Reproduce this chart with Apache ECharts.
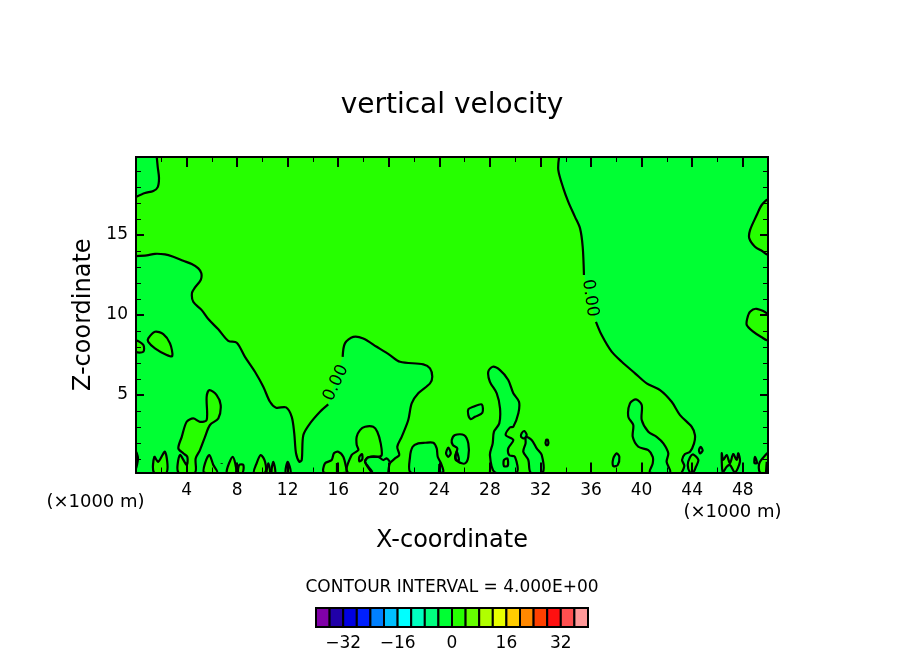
<!DOCTYPE html>
<html>
<head>
<meta charset="utf-8">
<script src="https://cdn.jsdelivr.net/npm/echarts@6/dist/echarts.min.js"></script>
<style>
	html, body { margin: 0; padding: 0; background: #fff; }
	#main { width: 904px; height: 654px; }
</style>
</head>
<body>
<div id="main"></div>
<script>
// axis extents and ticks, km
var xMin = 0, xMax = 50, zMin = 0.16, zMax = 19.88;
var xMajor = [4, 8, 12, 16, 20, 24, 28, 32, 36, 40, 44, 48];
var xMinor = [2, 6, 10, 14, 18, 22, 26, 30, 34, 38, 42, 46];
var zMajor = [5, 10, 15];
var zMinor = [1, 2, 3, 4, 6, 7, 8, 9, 11, 12, 13, 14, 16, 17, 18, 19];

// colour bar
var barLevels = [-40, -36, -32, -28, -24, -20, -16, -12, -8, -4, 0, 4, 8, 12, 16, 20, 24, 28, 32, 36];
var barColors = ['#8000a8', '#2000a8', '#0000e0', '#0020ff', '#0080ff', '#00c0ff', '#00ffff', '#00ffc0', '#00ff80', '#00ff33',
	'#26ff00', '#66ff00', '#b0ff00', '#e8ff00', '#ffcc00', '#ff8800', '#ff4000', '#ff1010', '#ff5050', '#ff9999'];
var barTicks = [-32, -16, 0, 16, 32];

// zero contour, main boundaries
var topLeftLine = [[1.64, 19.88], [1.72, 19.25], [1.82, 18.56], [1.72, 18.0], [1.37, 17.75], [0.71, 17.63], [0, 17.38]];
var mainLeftA = [[0, 13.69], [0.85, 13.73], [1.5, 13.83], [2.29, 13.79], [2.95, 13.64], [3.74, 13.39], [4.41, 13.19], [4.93, 12.92],
	[5.17, 12.61], [5.12, 12.19], [4.67, 11.73], [4.43, 11.39], [4.53, 10.83], [5.2, 10.31], [5.72, 9.75], [6.51, 9.11], [7.3, 8.39],
	[7.97, 8.27], [8.62, 7.39], [9.41, 6.46], [10.07, 5.52], [10.6, 4.58], [11.08, 4.21], [11.87, 4.23], [12.32, 3.64], [12.52, 2.61],
	[12.66, 1.36], [12.92, 0.83], [13.11, 0.94], [13.24, 2.5], [13.77, 3.23], [14.56, 3.96], [15.21, 4.42]];
var mainLeftB = [[16.35, 7.39], [16.53, 8.23], [17.19, 8.64], [17.98, 8.54], [19.04, 8.02], [20.09, 7.5], [20.89, 7.08], [22.73, 6.92],
	[23.26, 6.67], [23.44, 6.14], [23.26, 5.73], [22.33, 5.11], [21.81, 4.48], [21.54, 3.44], [21.02, 2.39], [20.67, 1.77], [20.83, 1.25],
	[20.49, 1.04], [20.09, 0.73], [19.96, 0.16]];
var mainRightA = [[33.47, 19.88], [33.41, 19.06], [33.81, 17.92], [34.2, 17.08], [34.73, 16.14], [35.13, 15.42], [35.34, 14.27], [35.44, 12.5]];
var mainRightB = [[36.39, 9.58], [36.84, 8.75], [37.63, 7.71], [38.43, 7.08], [39.48, 6.36], [40.4, 5.73], [41.46, 5.31], [42.38, 4.58],
	[43.04, 3.75], [43.96, 3.02], [44.22, 2.5], [44.15, 1.98], [43.83, 1.46], [43.43, 1.31], [43.2, 0.94], [43.38, 0.58], [43.17, 0.16]];
var bumpLine = [[18.65, 0.16], [18.12, 0.83], [18.38, 1.11], [19.17, 1.14], [19.56, 0.94], [19.83, 1.04], [20.09, 0.83]];

// islands of the positive side inside the negative regions
var lightTall = [[4.67, 0.16], [4.72, 1.04], [5.06, 1.56], [5.46, 2.39], [5.85, 3.13], [6.51, 3.54], [6.7, 4.38], [6.38, 5.0], [5.8, 5.31],
	[5.59, 4.89], [5.59, 3.44], [5.06, 3.33], [4.53, 3.54], [4.01, 3.33], [3.62, 2.39], [3.35, 1.67], [3.74, 1.36], [4.06, 1.14], [4.01, 0.63],
	[3.48, 1.25], [3.35, 0.16]];
var lightBlob = [[0.97, 8.54], [1.5, 8.96], [2.16, 8.81], [2.69, 8.23], [2.87, 7.44], [2.43, 7.5], [1.5, 7.92], [0.97, 8.33]];
var lightEdge = [[0, 8.39], [0.58, 8.13], [0.58, 7.71], [0, 7.71]];
var lightArch = [[16.72, 0.16], [17.06, 1.25], [17.59, 1.56], [17.46, 1.88], [17.46, 2.39], [17.72, 2.81], [18.12, 3.02], [18.77, 3.02],
	[19.09, 2.71], [19.36, 1.98], [19.44, 1.25], [19.17, 1.14], [18.38, 1.11], [18.12, 0.83], [18.65, 0.16]];
var spikeA = [[1.42, 0.16], [1.45, 1.14], [1.76, 0.83], [2.29, 1.46], [2.43, 0.16]];
var spikeB = [[5.38, 0.16], [5.46, 0.73], [5.8, 1.25], [6.12, 0.63], [6.43, 0.16]];
var spikeC = [[7.18, 0.16], [7.65, 1.14], [7.91, 0.16]];
var spikeD = [[8.09, 0.16], [8.17, 0.63], [8.49, 0.63], [8.44, 0.16]];
var spikeE = [[9.34, 0.16], [9.49, 0.63], [9.87, 1.25], [10.21, 0.83], [10.21, 0.16]];
var spikeF = [[10.34, 0.16], [10.47, 0.73], [10.6, 0.16]];
var spikeG = [[10.73, 0.16], [10.86, 0.83], [11.02, 0.16]];
var spikeH = [[11.84, 0.16], [12.0, 0.83], [12.24, 0.16]];
var spikeI = [[14.87, 0.16], [14.95, 0.73], [15.48, 0.94], [15.66, 1.36], [16.0, 1.46], [16.4, 1.14], [16.67, 0.31], [16.72, 0.16]];
var spikeLeft = [[0, 1.44], [0.16, 1.06], [0, 0.44]];
var lightTopRight = [[50, 17.19], [49.5, 16.88], [49.11, 16.25], [48.58, 15.31], [48.52, 14.79], [48.97, 14.27], [49.5, 14.02], [50, 13.81]];
var lightMidRight = [[50, 10.0], [49.11, 10.39], [48.58, 10.21], [48.36, 9.79], [48.32, 9.38], [48.83, 8.96], [49.5, 8.61], [50, 8.44]];
var lightLoop = [[44.09, 1.29], [44.49, 0.94], [44.3, 0.52], [44.09, 0.16], [43.83, 0.16], [43.65, 0.63], [43.83, 1.11]];
var lightTeeth = [[46.34, 1.36], [46.46, 0.94], [46.73, 1.25], [46.99, 0.73], [47.25, 1.31], [47.52, 0.94], [47.65, 1.36], [47.78, 0.83],
	[47.39, 0.16], [46.99, 0.63], [46.73, 0.52], [46.42, 0.16]];
var lightTooth = [[48.97, 1.14], [49.13, 0.75], [48.93, 0.75]];
var lightCorner = [[49.37, 0.16], [49.31, 0.73], [49.84, 1.28], [50, 1.38], [50, 0.16]];
var lightOval = [[29.11, 0.94], [29.38, 1.04], [29.41, 0.58], [29.11, 0.56]];

// islands of the negative side inside the positive region
var darkArchB = [[21.73, 0.16], [21.68, 1.14], [21.89, 1.77], [22.33, 1.98], [22.86, 2.02], [23.52, 2.02], [23.79, 1.67], [23.87, 1.14], [24.13, 0.73], [24.26, 0.16]];
var darkSmallA = [[26.29, 4.11], [26.68, 4.27], [27.35, 4.42], [27.4, 3.89], [26.82, 3.64], [26.48, 3.5], [26.29, 3.75]];
var darkSmallB = [[24.98, 2.19], [25.24, 2.5], [25.95, 2.5], [26.29, 1.98], [26.29, 1.14], [26.03, 0.73], [25.5, 0.83], [25.24, 1.14], [25.42, 1.67], [25.06, 1.88]];
var darkSmallC = [[24.71, 1.71], [24.9, 1.36], [24.71, 1.14], [24.53, 1.36]];
var darkSmallD = [[25.37, 1.46], [25.55, 0.94], [25.29, 0.94]];
var darkTall = [[28.4, 0.16], [28.0, 1.25], [28.22, 1.98], [28.32, 2.71], [28.74, 3.23], [28.8, 4.17], [28.54, 5.11], [28.0, 5.83], [27.87, 6.46],
	[28.22, 6.77], [28.8, 6.56], [29.45, 5.94], [29.85, 5.11], [30.3, 4.58], [30.25, 3.86], [29.85, 3.02], [29.59, 2.98], [29.25, 2.5], [29.85, 2.19],
	[29.45, 1.67], [29.53, 1.25], [29.98, 1.14], [30.12, 0.16]];
var darkNarrow = [[31.22, 0.16], [31.04, 0.94], [30.64, 1.46], [30.82, 1.98], [30.85, 2.39], [31.3, 2.19], [31.7, 1.67], [32.1, 1.25], [32.18, 0.16]];
var darkKnot = [[30.51, 2.61], [30.72, 2.75], [30.91, 2.5], [30.72, 2.29], [30.46, 2.39]];
var darkDot = [[32.44, 2.19], [32.59, 2.19], [32.59, 1.88], [32.44, 1.88]];
var darkOval = [[37.76, 1.04], [38.03, 1.36], [38.24, 1.14], [38.11, 0.63], [37.76, 0.56]];
var darkRidge = [[40.66, 0.16], [40.88, 0.73], [40.88, 1.14], [40.53, 1.56], [39.74, 1.77], [39.3, 2.39], [39.34, 3.13], [38.95, 3.64], [39.08, 4.48],
	[39.56, 4.73], [40.01, 4.38], [40.01, 3.44], [40.53, 2.71], [41.19, 2.39], [41.72, 1.98], [42.11, 1.36], [41.98, 0.83], [42.25, 0.16]];
var darkDrop = [[44.54, 1.56], [44.68, 1.77], [44.83, 1.52], [44.62, 1.36]];
var darkArchDot = [[17.67, 1.14], [17.88, 1.31], [17.9, 0.98], [17.67, 0.86]];

// short marks left by the contouring along the ground
var marks = [
	[[15.9, 0.75], [15.9, 0.16]], [[24.0, 0.69], [23.97, 0.16]], [[28.03, 0.69], [28.0, 0.16]],
	[[49.9, 0.83], [49.84, 0.16]], [[6.78, 0.76], [6.78, 0.7]]
];

// contour labels: x, z, angle in degrees
var contourLabels = [[15.82, 5.75, 65], [35.92, 11.06, -82]];

var darkFill = '#00ff33';
var lightFill = '#26ff00';
var curve = 0.3;

// the big regions are closed along the frame, so they stay unsmoothed
var bigRegions = [
	topLeftLine.concat([[0, zMax]]),
	mainLeftA.concat(mainLeftB, [[0, zMin]]),
	mainRightA.concat(mainRightB, [[xMax, zMin], [xMax, zMax]])
];
var darkRegions = [darkArchB, darkSmallA, darkSmallB, darkSmallC, darkSmallD, darkTall, darkNarrow, darkKnot, darkDot, darkOval, darkRidge, darkDrop];
var lightRegions = [lightTall, lightBlob, lightEdge, lightArch, spikeA, spikeB, spikeC, spikeD, spikeE, spikeF, spikeG, spikeH, spikeI,
	spikeLeft, lightTopRight, lightMidRight, lightLoop, lightTeeth, lightTooth, lightCorner, lightOval];
var openLines = [topLeftLine, mainLeftA, mainLeftB, mainRightA, mainRightB, bumpLine].concat(marks);
var closedLines = darkRegions.concat(lightRegions, [darkArchDot]);

/**
 * custom series that fills or strokes a list of contours in the plot grid
 */
function contourSeries(list, fill, closed, smooth) {
	return {
		type : 'custom',
		xAxisIndex : 0,
		yAxisIndex : 0,
		silent : true,
		animation : false,
		clip : true,
		z : 2,
		data : list.map(function(c, i) { return [i]; }),
		encode : { x : 0 },
		renderItem : function(params, api) {
			var points = list[params.dataIndex].map(function(p) { return api.coord(p); });
			var style = fill ? { fill : fill } : { fill : 'none', stroke : '#000', lineWidth : 2.2, lineJoin : 'round' };
			return { type : closed ? 'polygon' : 'polyline', shape : { points : points, smooth : smooth }, style : style };
		}
	};
}

/**
 * one axis of the plot grid, used several times for major and minor ticks on each side
 */
function plotAxis(position, min, max, ticks, length, labels, name, nameGap, labelMargin, labelPad) {
	var axis = {
		type : 'value',
		gridIndex : 0,
		position : position,
		min : min,
		max : max,
		z : 5,
		splitLine : { show : false },
		axisLine : { show : true, onZero : false, lineStyle : { color : '#000', width : 2 } },
		axisTick : { show : true, inside : true, customValues : ticks, length : length, lineStyle : { color : '#000', width : length > 6 ? 2 : 1 } },
		axisLabel : { show : false }
	};
	if (labels) {
		axis.axisLabel = { show : true, customValues : labels, color : '#000', fontFamily : 'DejaVu Sans', fontSize : 17, margin : labelMargin, padding : labelPad };
		axis.name = name;
		axis.nameLocation = 'middle';
		axis.nameGap = nameGap;
		axis.nameTextStyle = { color : '#000', fontFamily : 'DejaVu Sans', fontSize : 24 };
	}
	return axis;
}

function plainTitle(text, left, top, size) {
	return { text : text, left : left, top : top, padding : 0, textAlign : 'center',
		textStyle : { color : '#000', fontFamily : 'DejaVu Sans', fontWeight : 'normal', fontSize : size } };
}

var myChart = echarts.init(document.getElementById('main'), null, { renderer : 'canvas' });

var option = {
	backgroundColor : '#fff',
	animation : false,
	title : [
		plainTitle('vertical velocity', 452, 92, 28),
		plainTitle('CONTOUR INTERVAL = 4.000E+00', 452, 579, 17),
		plainTitle('(×1000 m)', 95.5, 493, 18),
		plainTitle('(×1000 m)', 732.5, 503, 18)
	],
	grid : [
		{ left : 136, top : 157, width : 632, height : 315.5, show : true, backgroundColor : lightFill, borderWidth : 0 },
		{ left : 316, top : 608, width : 272, height : 19, show : false }
	],
	xAxis : [
		plotAxis('bottom', xMin, xMax, xMajor, 10, xMajor, 'X-coordinate', 56, 10, 0),
		plotAxis('bottom', xMin, xMax, xMinor, 5),
		plotAxis('top', xMin, xMax, xMajor, 10),
		plotAxis('top', xMin, xMax, xMinor, 5),
		{
			type : 'value', gridIndex : 1, min : -40, max : 40,
			splitLine : { show : false },
			axisLine : { show : false },
			axisTick : { show : false },
			axisLabel : { customValues : barTicks, color : '#000', fontFamily : 'DejaVu Sans', fontSize : 17, margin : 8,
				formatter : function(v) { return String(v).replace('-', '\u2212'); } }
		}
	],
	yAxis : [
		plotAxis('left', zMin, zMax, zMajor, 8, zMajor, 'Z-coordinate', 39, 8, [4, 0, 0, 0]),
		plotAxis('left', zMin, zMax, zMinor, 5),
		plotAxis('right', zMin, zMax, zMajor, 8),
		plotAxis('right', zMin, zMax, zMinor, 5),
		{ type : 'value', gridIndex : 1, min : 0, max : 1, show : false }
	],
	series : [
		contourSeries(bigRegions, darkFill, true, 0),
		contourSeries(darkRegions, darkFill, true, curve),
		contourSeries(lightRegions, lightFill, true, curve),
		contourSeries([darkArchDot], darkFill, true, curve),
		contourSeries(openLines, null, false, curve),
		contourSeries(closedLines, null, true, curve),
		{
			type : 'custom',
			xAxisIndex : 0,
			yAxisIndex : 0,
			silent : true,
			z : 3,
			data : contourLabels,
			encode : { x : 0, y : 1 },
			renderItem : function(params, api) {
				var p = contourLabels[params.dataIndex];
				var pt = api.coord([p[0], p[1]]);
				return {
					type : 'text',
					x : pt[0],
					y : pt[1],
					rotation : p[2] * Math.PI / 180,
					style : { text : '0.00', x : 0, y : 0, align : 'center', verticalAlign : 'middle', fill : '#000', font : '17px "DejaVu Sans"' }
				};
			}
		},
		{
			type : 'custom',
			xAxisIndex : 4,
			yAxisIndex : 4,
			silent : true,
			data : barLevels,
			encode : { x : 0 },
			renderItem : function(params, api) {
				var level = barLevels[params.dataIndex];
				var a = api.coord([level, 1]);
				var b = api.coord([level + 4, 0]);
				return {
					type : 'rect',
					shape : { x : a[0], y : a[1], width : b[0] - a[0], height : b[1] - a[1] },
					style : { fill : barColors[params.dataIndex], stroke : '#000', lineWidth : 2 }
				};
			}
		}
	]
};

myChart.setOption(option);
</script>
</body>
</html>
